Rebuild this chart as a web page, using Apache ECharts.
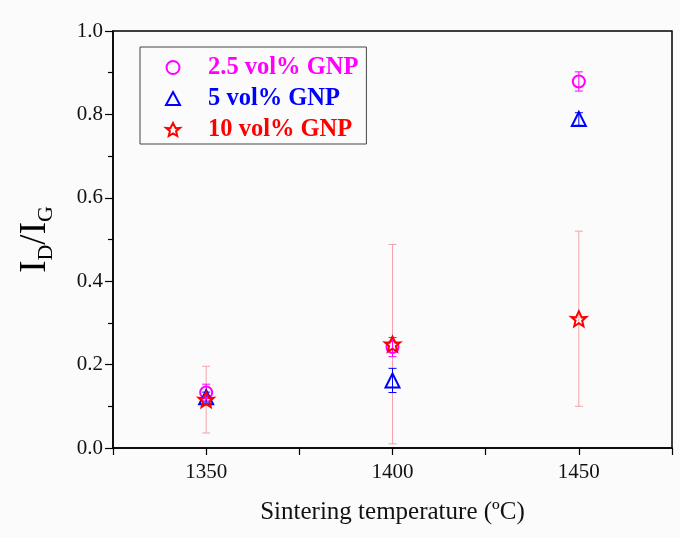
<!DOCTYPE html>
<html><head><meta charset="utf-8">
<script src="https://cdn.jsdelivr.net/npm/echarts@6/dist/echarts.min.js"></script>
<style>html,body{margin:0;padding:0;background:#fbfbfb}#c{width:680px;height:538px}</style>
</head><body><div id="c"></div>
<script>
const temperatures = [1350, 1400, 1450];
const seriesNames = ['2.5 vol% GNP', '5 vol% GNP', '10 vol% GNP'];
const gnp25 = [0.133, 0.242, 0.879];
const gnp25Err = [0.02, 0.023, 0.023];
const gnp5 = [0.122, 0.162, 0.789];
const gnp5Err = [0.012, 0.029, 0.015];
const gnp10 = [0.116, 0.249, 0.31];
const gnp10Err = [0.08, 0.239, 0.21];
const xTickLabels = [1350, 1400, 1450];

const colors = ['#ff00ff', '#0000ff', '#ff0000'];
const errColors = ['#ff00ff', '#0000ff', '#f5a3a8'];
const starPath = 'path://M50,0L68.2,36.8L97.6,34.5L71.4,56.9L79.4,90.5L50,72.5L20.6,90.5L28.6,56.9L2.4,34.5L31.8,36.8Z';
const symbols = ['circle', 'triangle', starPath];
const symbolSizes = [12, 14, 15];
const values = [gnp25, gnp5, gnp10];
const errs = [gnp25Err, gnp5Err, gnp10Err];

function errSeries(i) {
  return {
    type: 'custom', name: seriesNames[i] + ' err', z: 1, silent: true,
    data: temperatures.map((t, k) => [t, values[i][k] - errs[i][k], values[i][k] + errs[i][k]]),
    renderItem: function (params, api) {
      const lo = api.coord([api.value(0), api.value(1)]);
      const hi = api.coord([api.value(0), api.value(2)]);
      const w = 4;
      const st = { stroke: errColors[i], lineWidth: 1, fill: null };
      return { type: 'group', children: [
        { type: 'line', shape: { x1: lo[0], y1: lo[1], x2: hi[0], y2: hi[1] }, style: st },
        { type: 'line', shape: { x1: lo[0] - w, y1: lo[1], x2: lo[0] + w, y2: lo[1] }, style: st },
        { type: 'line', shape: { x1: hi[0] - w, y1: hi[1], x2: hi[0] + w, y2: hi[1] }, style: st }
      ]};
    }
  };
}
function scatterSeries(i) {
  return {
    type: 'scatter', name: seriesNames[i], z: 3 + i,
    symbol: symbols[i], symbolSize: symbolSizes[i],
    itemStyle: { color: 'rgba(255,255,255,0)', borderColor: colors[i], borderWidth: 2, opacity: 1 },
    data: temperatures.map((t, k) => [t, values[i][k]])
  };
}

const chart = echarts.init(document.getElementById('c'));
const font = 'Liberation Serif';
chart.setOption({
  backgroundColor: '#fbfbfb',
  animation: false,
  grid: { left: 113, right: 8, top: 31, bottom: 90, show: true, borderColor: '#000', borderWidth: 1.5, backgroundColor: 'transparent' },
  legend: {
    left: 140, top: 47, orient: 'vertical',
    padding: [8, 8, 2, 25],
    borderColor: '#444', borderWidth: 1,
    itemWidth: 14, itemHeight: 13, itemGap: 6,
    textStyle: { fontFamily: font, fontWeight: 'bold', fontSize: 24.5, padding: [0, 0, 0, 23] },
    data: seriesNames.map((n, i) => ({ name: n, textStyle: { color: colors[i] } }))
  },
  xAxis: {
    type: 'value', min: 1325, max: 1475, interval: 25,
    name: 'Sintering temperature (ºC)', nameLocation: 'middle', nameGap: 52,
    nameTextStyle: { fontFamily: font, fontSize: 25, color: '#111' },
    axisLine: { lineStyle: { color: '#000', width: 1.5 } },
    axisTick: { inside: false, length: 7, lineStyle: { color: '#000', width: 1.2 } },
    axisLabel: { fontFamily: font, fontSize: 21, color: '#111', margin: 14,
      formatter: v => xTickLabels.indexOf(v) >= 0 ? String(v) : '' },
    splitLine: { show: false }
  },
  yAxis: {
    type: 'value', min: 0, max: 1, interval: 0.2,
    name: '{b|I}{s|D}{b|/I}{s|G}', nameLocation: 'middle', nameGap: 56, nameRotate: 90,
    nameTextStyle: { rich: {
      b: { fontFamily: font, fontSize: 37, color: '#000', lineHeight: 44, verticalAlign: 'middle' },
      s: { fontFamily: font, fontSize: 22, color: '#000', lineHeight: 44, verticalAlign: 'bottom', padding: [16, 0, 0, 0] }
    } },
    axisLine: { lineStyle: { color: '#000', width: 1.5 } },
    axisTick: { inside: false, length: 8, lineStyle: { color: '#000', width: 1.2 } },
    minorTick: { show: true, splitNumber: 2, length: 5, lineStyle: { color: '#000', width: 1.2 } },
    axisLabel: { fontFamily: font, fontSize: 21, color: '#111', margin: 10, formatter: v => v.toFixed(1) },
    splitLine: { show: false }
  },
  series: [errSeries(2), errSeries(0), errSeries(1), scatterSeries(0), scatterSeries(1), scatterSeries(2)]
});
</script></body></html>
